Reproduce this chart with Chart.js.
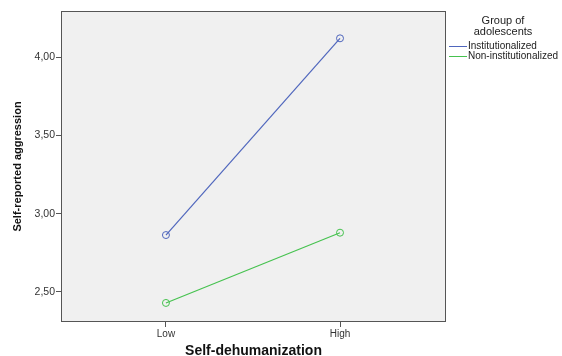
<!DOCTYPE html>
<html lang="en">
<head>
  <meta charset="UTF-8" />
  <title>Self-dehumanization and aggression</title>
  <style>
    html, body { margin: 0; padding: 0; background: #fff; }
    #wrap { width: 562px; height: 356px; }
  </style>
</head>
<body>
  <div id="wrap"><canvas id="chart" width="562" height="356"></canvas></div>

  <script src="https://cdn.jsdelivr.net/npm/chart.js"></script>
  <script>
    const xLabels = ['Low', 'High'];
    const xPositions = [0, 1];
    const groupNames = ['Institutionalized', 'Non-institutionalized'];
    const institutionalized = [2.863, 4.123];
    const nonInstitutionalized = [2.428, 2.878];
    const yTicks = [2.5, 3.0, 3.5, 4.0];

    const seriesColors = ['#4f66bd', '#46c24f'];

    const plotBg = {
      id: 'plotBg',
      beforeDraw(chart) {
        const { ctx, chartArea: a } = chart;
        ctx.save();
        ctx.fillStyle = '#f0f0f0';
        ctx.fillRect(a.left, a.top, a.right - a.left, a.bottom - a.top);
        ctx.restore();
      },
      afterDraw(chart) {
        const { ctx, chartArea: a } = chart;
        ctx.save();
        ctx.strokeStyle = '#555';
        ctx.lineWidth = 1;
        ctx.strokeRect(a.left + 0.5, a.top + 0.5, a.right - a.left - 1, a.bottom - a.top - 1);
        ctx.restore();
      }
    };

    // legend drawn by hand, to the right of the plot box
    const sideLegend = {
      id: 'sideLegend',
      afterDraw(chart) {
        const ctx = chart.ctx;
        ctx.save();
        ctx.fillStyle = '#222';
        ctx.font = '11px Arial, "Liberation Sans", sans-serif';
        ctx.textAlign = 'center';
        ctx.textBaseline = 'middle';
        ctx.fillText('Group of', 503, 21);
        ctx.fillText('adolescents', 503, 32);
        ctx.font = '10px Arial, "Liberation Sans", sans-serif';
        ctx.textAlign = 'left';
        chart.data.datasets.forEach((ds, i) => {
          const y = 46.5 + i * 10;
          ctx.strokeStyle = ds.borderColor;
          ctx.lineWidth = 1;
          ctx.beginPath();
          ctx.moveTo(449, y);
          ctx.lineTo(467, y);
          ctx.stroke();
          ctx.fillStyle = '#222';
          ctx.fillText(ds.label, 468, y);
        });
        ctx.restore();
      }
    };

    const ctx = document.getElementById('chart').getContext('2d');
    new Chart(ctx, {
      type: 'line',
      data: {
        datasets: [
          {
            label: groupNames[0],
            data: xPositions.map((x, i) => ({ x: x, y: institutionalized[i] })),
            borderColor: seriesColors[0],
            backgroundColor: 'rgba(0,0,0,0)',
            borderWidth: 1.2,
            pointRadius: 3.5,
            pointBorderWidth: 1,
            tension: 0
          },
          {
            label: groupNames[1],
            data: xPositions.map((x, i) => ({ x: x, y: nonInstitutionalized[i] })),
            borderColor: seriesColors[1],
            backgroundColor: 'rgba(0,0,0,0)',
            borderWidth: 1.2,
            pointRadius: 3.5,
            pointBorderWidth: 1,
            tension: 0
          }
        ]
      },
      options: {
        responsive: false,
        animation: false,
        layout: { padding: { top: 11, right: 116, left: 0, bottom: 0 } },
        plugins: {
          legend: { display: false },
          tooltip: { enabled: false }
        },
        scales: {
          x: {
            type: 'linear',
            min: -0.603,
            max: 1.609,
            afterBuildTicks(scale) {
              scale.ticks = xPositions.map(v => ({ value: v }));
            },
            afterFit(scale) { scale.height = 34; },
            grid: { drawOnChartArea: false, color: '#555', tickLength: 5 },
            border: { display: false },
            ticks: {
              color: '#333',
              font: { family: 'Arial, "Liberation Sans", sans-serif', size: 10 },
              padding: 1,
              maxRotation: 0,
              callback: (v) => xLabels[xPositions.indexOf(v)] || ''
            },
            title: {
              display: true,
              text: 'Self-dehumanization',
              color: '#111',
              font: { family: 'Arial, "Liberation Sans", sans-serif', size: 14, weight: 'bold' },
              padding: { top: 5, bottom: -4 }
            }
          },
          y: {
            min: 2.306,
            max: 4.298,
            afterBuildTicks(scale) {
              scale.ticks = yTicks.map(v => ({ value: v }));
            },
            afterFit(scale) { scale.width = 61; },
            grid: { drawOnChartArea: false, color: '#555', tickLength: 5 },
            border: { display: false },
            ticks: {
              color: '#333',
              font: { family: 'Arial, "Liberation Sans", sans-serif', size: 10.5 },
              padding: 1,
              callback: (v) => v.toFixed(2).replace('.', ',')
            },
            title: {
              display: true,
              text: 'Self-reported aggression',
              color: '#111',
              font: { family: 'Arial, "Liberation Sans", sans-serif', size: 11, weight: 'bold' },
              padding: { top: 11, bottom: 0 }
            }
          }
        }
      },
      plugins: [plotBg, sideLegend]
    });
  </script>
</body>
</html>
